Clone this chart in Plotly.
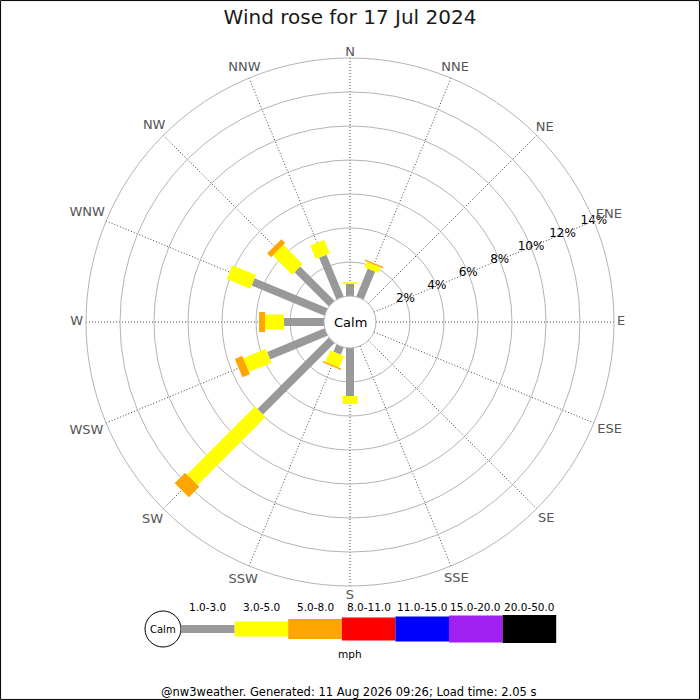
import math
import plotly.graph_objects as go

# ---------------- data ----------------
directions = ['N', 'NNE', 'NE', 'ENE', 'E', 'ESE', 'SE', 'SSE',
              'S', 'SSW', 'SW', 'WSW', 'W', 'WNW', 'NW', 'NNW']
# percentage of time per direction and speed band (mph)
pct_1_3 = [0.71, 1.78, 0, 0, 0, 0, 0, 0, 2.82, 0.46, 5.94, 3.65, 2.35, 4.64, 2.85, 2.66]
pct_3_5 = [0.10, 0.35, 0, 0, 0, 0, 0, 0, 0.47, 0.74, 5.65, 1.44, 1.12, 1.50, 1.60, 0.86]
pct_5_8 = [0.00, 0.08, 0, 0, 0, 0, 0, 0, 0.00, 0.08, 0.88, 0.47, 0.35, 0.00, 0.32, 0.00]
band_labels = ['1.0-3.0', '3.0-5.0', '5.0-8.0', '8.0-11.0', '11.0-15.0', '15.0-20.0', '20.0-50.0']
radial_ticks = [2, 4, 6, 8, 10, 12, 14]
title_text = 'Wind rose for 17 Jul 2024'
footer_text = '@nw3weather. Generated: 11 Aug 2026 09:26; Load time: 2.05 s'

# ---------------- styles ----------------
band_colors = ['#999999', '#ffff00', '#ffa500', '#ff0000', '#0000ff', '#a020f0', '#000000']
band_widths = [8, 15, 20, 23, 25, 27, 28]
FONT = 'DejaVu Sans'
LABEL_SIZE = 13
CHAR_W = {'N': 0.748, 'E': 0.632, 'S': 0.635, 'W': 0.989}   # DejaVu Sans advance widths (em)
W = H = 700
CX, CY = 350, 322          # pixel centre of rose
R_OUT, R_IN = 264, 26      # outer ring / calm circle radii in px
R_MAX = 14
R_LAB_AX = 300             # pixel radius of the helper polar used for compass labels
GAP = 3

bearings = [i * 360 / len(directions) for i in range(len(directions))]

fig = go.Figure()

# stacked bars, drawn as thick straight lines (constant pixel width)
series = [pct_1_3, pct_3_5, pct_5_8]
base = [0.0] * len(directions)
for k, vals in enumerate(series):
    rr, tt = [], []
    for i, v in enumerate(vals):
        if v > 0:
            rr += [base[i], base[i] + v, None]
            tt += [bearings[i], bearings[i], None]
    fig.add_trace(go.Scatterpolar(
        r=rr, theta=tt, mode='lines',
        line=dict(color=band_colors[k], width=band_widths[k]),
        hoverinfo='skip', showlegend=False))
    base = [base[i] + vals[i] for i in range(len(vals))]

# radial tick labels along ENE spoke
fig.add_trace(go.Scatterpolar(
    r=radial_ticks, theta=[67.5] * len(radial_ticks), mode='text',
    text=[f'{v}%' for v in radial_ticks],
    textfont=dict(family=FONT, size=12, color='black'),
    cliponaxis=False, hoverinfo='skip', showlegend=False))

# compass labels: centred just outside the outer ring (helper polar in pixel units)
def label_radius(lab, b):
    half_w = sum(CHAR_W[c] for c in lab) * LABEL_SIZE / 2
    half_h = 0.73 * LABEL_SIZE / 2
    t = math.radians(b)
    # text renders ~1.5px above its anchor: compensate vertically
    return (R_OUT + GAP + abs(math.sin(t)) * half_w + abs(math.cos(t)) * half_h
            - 2 * math.cos(t))

fig.add_trace(go.Scatterpolar(
    r=[label_radius(d, b) for d, b in zip(directions, bearings)], theta=bearings,
    mode='text', text=directions, textposition='middle center',
    textfont=dict(family=FONT, size=LABEL_SIZE, color='#555555'),
    cliponaxis=False, hoverinfo='skip', showlegend=False, subplot='polar2'))

def px(x):
    return x / W

def py(y):
    return (H - y) / H

hidden_axis = dict(visible=False, showgrid=False, showline=False, showticklabels=False, ticks='')

fig.update_layout(
    width=W, height=H,
    margin=dict(l=0, r=0, t=0, b=0),
    paper_bgcolor='white',
    showlegend=False,
    font=dict(family=FONT),
    title=dict(text=title_text, x=0.5, xanchor='center', y=py(17), yanchor='middle',
               font=dict(family=FONT, size=20, color='#1a1a1a')),
    polar=dict(
        domain=dict(x=[px(CX - R_OUT), px(CX + R_OUT)],
                    y=[py(CY + R_OUT), py(CY - R_OUT)]),
        hole=R_IN / R_OUT,
        bgcolor='white',
        radialaxis=dict(range=[0, R_MAX], tickvals=[0] + radial_ticks, showticklabels=False,
                        ticks='', showline=False, gridcolor='#b4b4b4', gridwidth=1,
                        angle=22.5),
        angularaxis=dict(rotation=90, direction='clockwise',
                         tickmode='array', tickvals=bearings, showticklabels=False,
                         ticks='', showline=True, linecolor='#b4b4b4', linewidth=1,
                         showgrid=True, gridcolor='#444444', griddash='1px,2px', gridwidth=1),
    ),
    polar2=dict(
        domain=dict(x=[px(CX - R_LAB_AX), px(CX + R_LAB_AX)],
                    y=[py(CY + R_LAB_AX), py(CY - R_LAB_AX)]),
        bgcolor='rgba(0,0,0,0)',
        radialaxis=dict(range=[0, R_LAB_AX], **hidden_axis),
        angularaxis=dict(rotation=90, direction='clockwise', **hidden_axis),
    ),
)

shapes = []
annotations = []

def note(x, y, text, size, color='black'):
    annotations.append(dict(x=px(x), y=py(y), xref='paper', yref='paper', text=text,
                            showarrow=False, xanchor='center', yanchor='middle',
                            font=dict(family=FONT, size=size, color=color)))

# frame
shapes.append(dict(type='rect', xref='paper', yref='paper', x0=0.0008, x1=0.9992,
                   y0=0.0008, y1=0.9992, line=dict(color='black', width=1)))
# centre calm label
note(CX, CY, 'Calm', 13)

# speed legend
lx0, lstep, ly = 181, 53.6, 629
shapes.append(dict(type='circle', xref='paper', yref='paper',
                   x0=px(145), x1=px(181), y0=py(647), y1=py(611),
                   line=dict(color='black', width=1), fillcolor='white'))
note(163, 629, 'Calm', 10)
for k, lab in enumerate(band_labels):
    x0 = lx0 + k * lstep
    h = band_widths[k]
    shapes.append(dict(type='rect', xref='paper', yref='paper',
                       x0=px(x0), x1=px(x0 + lstep), y0=py(ly + h / 2), y1=py(ly - h / 2),
                       line=dict(width=0), fillcolor=band_colors[k]))
    note(x0 + lstep / 2, 607, lab, 10.5)
note(350, 654, 'mph', 10.5)
note(348, 692, footer_text, 11.5)

fig.update_layout(shapes=shapes, annotations=annotations)
fig.write_html('out.html', config={'displayModeBar': False},
               post_script="document.body.style.margin='0';document.body.style.overflow='hidden';")
